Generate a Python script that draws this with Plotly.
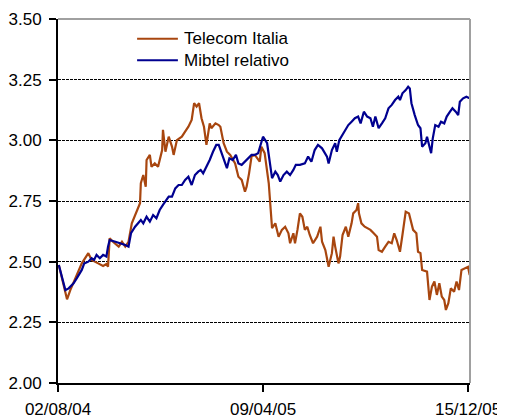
import pandas as pd
import plotly.graph_objects as go

start_date = "2004-08-02"
tick_dates = ["2004-08-02", "2005-04-09", "2005-12-15"]
tick_labels = ["02/08/04", "09/04/05", "15/12/05"]
y_ticks = [2.00, 2.25, 2.50, 2.75, 3.00, 3.25, 3.50]
series_names = ["Telecom Italia", "Mibtel relativo"]
series_colors = ["#A8460F", "#000090"]

# days since 02/08/04
telecom_days = [1, 11, 15, 25, 29, 37, 41, 49, 55, 59, 61, 63, 67, 74, 78, 82, 86, 90, 96, 100,
                101, 104, 107, 108, 112, 114, 118, 122, 127, 128, 131, 135, 139, 141, 145, 151,
                155, 159, 163, 166, 169, 172, 175, 178, 181, 185, 187, 192, 196, 198, 202, 206,
                210, 216, 220, 224, 228, 230, 233, 236, 240, 246, 248, 252, 257, 261, 265, 269,
                273, 277, 281, 283, 287, 289, 292, 295, 298, 301, 304, 307, 311, 316, 320, 322,
                326, 330, 334, 336, 338, 342, 344, 347, 351, 354, 358, 360, 364, 366, 367, 370,
                374, 381, 385, 389, 391, 395, 399, 403, 407, 410, 413, 417, 420, 424, 428, 433,
                437, 439, 442, 444, 450, 453, 456, 459, 462, 465, 468, 471, 473, 476, 479, 483,
                486, 489, 492, 496, 500, 502]
telecom_vals = [2.486, 2.345, 2.383, 2.466, 2.493, 2.535, 2.507, 2.493, 2.482, 2.490, 2.479, 2.596,
                2.582, 2.562, 2.582, 2.562, 2.582, 2.658, 2.706, 2.741,
                2.823, 2.857, 2.809, 2.919, 2.940, 2.891, 2.905, 2.891, 2.960, 3.043, 2.953, 3.015,
                2.974, 2.940, 3.001, 3.015,
                3.036, 3.056, 3.084, 3.153, 3.139, 3.153, 3.091, 3.056, 2.981, 3.070, 3.050, 3.070,
                3.063, 3.056, 2.988, 2.953,
                2.940, 2.905, 2.850, 2.837, 2.788, 2.809, 2.864, 2.933, 2.940, 2.912, 2.974, 2.947,
                2.823, 2.638, 2.658, 2.603,
                2.631, 2.644, 2.617, 2.576, 2.617, 2.576, 2.631, 2.699, 2.685, 2.631, 2.644, 2.610,
                2.576, 2.603, 2.644, 2.582,
                2.548, 2.479, 2.535, 2.603, 2.562, 2.493, 2.521, 2.610, 2.644, 2.603, 2.658, 2.699,
                2.713, 2.741, 2.699, 2.658,
                2.644, 2.631, 2.617, 2.603, 2.548, 2.541, 2.562, 2.582, 2.576, 2.617, 2.589, 2.541,
                2.610, 2.706, 2.699, 2.631,
                2.617, 2.541, 2.535, 2.466, 2.459, 2.342, 2.397, 2.418, 2.363, 2.411, 2.356, 2.342,
                2.301, 2.329, 2.390, 2.376,
                2.418, 2.383, 2.466, 2.473, 2.479, 2.445]

mibtel_days = [1, 5, 9, 13, 19, 23, 29, 32, 37, 41, 44, 47, 51, 55, 59, 61, 63, 70, 76, 82, 86,
               89, 94, 98, 101, 104, 108, 112, 116, 120, 124, 128, 131, 135, 139, 143, 147, 151,
               155, 159, 163, 167, 171, 174, 177, 181, 185, 189, 193, 196, 198, 202, 206, 209,
               213, 217, 220, 224, 228, 232, 236, 240, 244, 247, 250, 255, 258, 261, 265, 268,
               271, 275, 279, 283, 287, 290, 295, 301, 305, 309, 313, 317, 322, 328, 330, 334,
               338, 340, 343, 347, 350, 354, 358, 362, 366, 369, 373, 377, 381, 384, 387, 391,
               395, 399, 403, 407, 411, 415, 417, 420, 424, 427, 429, 431, 435, 439, 442, 444,
               448, 450, 453, 455, 457, 460, 464, 467, 471, 474, 478, 481, 485, 488, 490, 494,
               498, 502]
mibtel_vals = [2.486, 2.438, 2.383, 2.390, 2.411, 2.432, 2.466, 2.493, 2.500, 2.514, 2.507, 2.528,
               2.514, 2.528, 2.521, 2.562, 2.589, 2.582, 2.576, 2.569, 2.562,
               2.617, 2.644, 2.658, 2.672, 2.658, 2.685, 2.665, 2.692, 2.679, 2.713, 2.734, 2.747,
               2.768, 2.768, 2.802, 2.816, 2.816,
               2.837, 2.850, 2.816, 2.857, 2.871, 2.878, 2.864, 2.891, 2.919, 2.953, 2.981, 2.981,
               2.960, 2.926, 2.885, 2.926,
               2.919, 2.940, 2.905, 2.899, 2.912, 2.926, 2.940, 2.940, 2.947, 2.981, 3.015, 2.988,
               2.905, 2.844, 2.871, 2.857,
               2.830, 2.857, 2.871, 2.857, 2.878, 2.899, 2.899, 2.905, 2.933, 2.912, 2.960, 2.981,
               2.967, 2.933, 2.905, 2.960,
               2.988, 2.953, 3.001, 3.022, 3.043, 3.063, 3.077, 3.091, 3.098, 3.070, 3.118, 3.098,
               3.091, 3.056, 3.098, 3.050,
               3.070, 3.091, 3.132, 3.146, 3.166, 3.180, 3.166, 3.194, 3.207, 3.221, 3.214, 3.153,
               3.104, 3.063, 3.050, 2.974,
               2.988, 3.015, 2.974, 2.947, 3.008, 3.063, 3.056, 3.077, 3.070, 3.098, 3.118, 3.132,
               3.118, 3.104, 3.159, 3.173,
               3.180, 3.173]

t0 = pd.Timestamp(start_date)
telecom_x = [t0 + pd.Timedelta(days=d) for d in telecom_days]
mibtel_x = [t0 + pd.Timedelta(days=d) for d in mibtel_days]

fig = go.Figure()
fig.add_trace(go.Scatter(x=telecom_x, y=telecom_vals, mode="lines", name=series_names[0],
                         line=dict(color=series_colors[0], width=2.2)))
fig.add_trace(go.Scatter(x=mibtel_x, y=mibtel_vals, mode="lines", name=series_names[1],
                         line=dict(color=series_colors[1], width=2.2)))

font = dict(family="Liberation Sans, Arial, sans-serif", size=17, color="black")

# page has an 8px body margin, so the figure is sized to the visible window
fig.update_layout(
    width=497, height=411,
    margin=dict(l=50, r=35, t=11, b=36),
    paper_bgcolor="white", plot_bgcolor="white",
    font=font,
    showlegend=False,
    xaxis=dict(type="date", range=[t0, t0 + pd.Timedelta(days=502.4)], automargin=False,
               tickvals=tick_dates, ticktext=tick_labels, ticks="outside", ticklen=7,
               tickwidth=2, tickcolor="black", showgrid=False, showline=True, linecolor="black",
               linewidth=2, zeroline=False, ticklabelstandoff=3),
    yaxis=dict(range=[2.0, 3.5], tickvals=y_ticks, tickformat=".2f", ticks="outside",
               automargin=False,
               ticklen=7, tickwidth=2, tickcolor="black", showgrid=True, gridcolor="black",
               gridwidth=1, griddash="3px,1px", showline=True, linecolor="black", linewidth=2,
               zeroline=False, ticklabelstandoff=4),
)
fig.add_shape(type="line", xref="paper", yref="paper", x0=0, x1=1, y0=1, y1=1,
              line=dict(color="#a0a0a0", width=2), layer="above")
fig.add_shape(type="line", xref="paper", yref="paper", x0=1, x1=1, y0=0, y1=1,
              line=dict(color="#a0a0a0", width=2), layer="above")

# manual legend (compact rows like the reference)
legend_rows_y = [0.946, 0.887]
for name, color, ly in zip(series_names, series_colors, legend_rows_y):
    fig.add_shape(type="line", xref="paper", yref="paper", x0=0.192, x1=0.291, y0=ly, y1=ly,
                  line=dict(color=color, width=2))
    fig.add_annotation(xref="paper", yref="paper", x=0.300, y=ly, text=name, showarrow=False,
                       xanchor="left", yanchor="middle", font=font)

fig.write_html("out.html")
